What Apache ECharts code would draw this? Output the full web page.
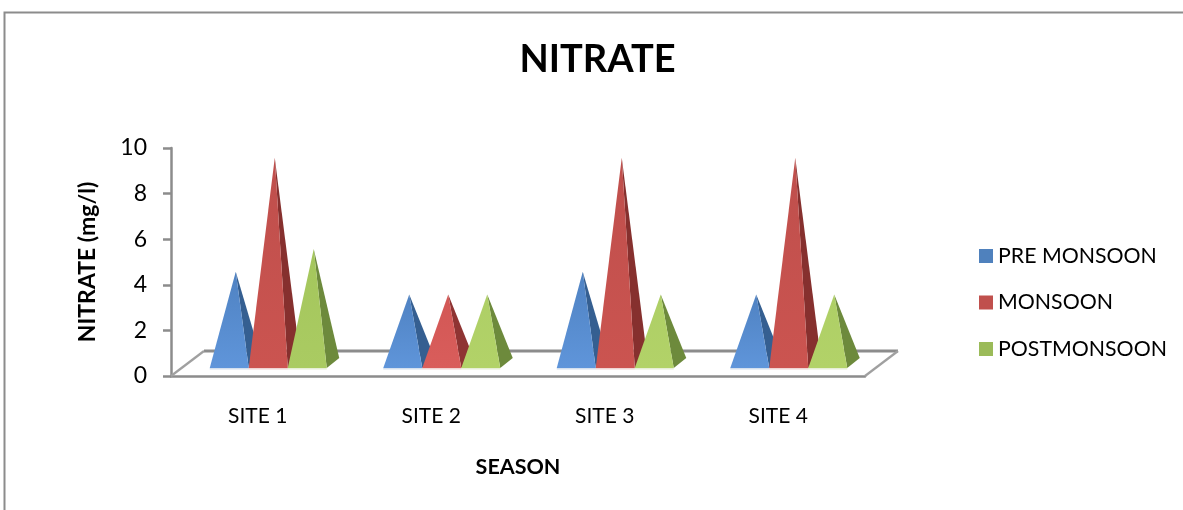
<!DOCTYPE html>
<html><head><meta charset="utf-8">
<style>html,body{margin:0;padding:0;background:#fff}#c{width:1183px;height:510px}</style>
<script src="https://cdn.jsdelivr.net/npm/echarts@6/dist/echarts.min.js"></script>
</head><body><div id="c"></div>
<script>
const categories = ['SITE 1','SITE 2','SITE 3','SITE 4'];
const preMonsoon = [4,3,4,3];
const monsoon = [9,3,9,9];
const postMonsoon = [5,3,3,3];
const seriesNames = ['PRE MONSOON','MONSOON','POSTMONSOON'];

const FONT = 'Lato, "Open Sans", sans-serif';
const GRAY = '#8c8c8c';
const looks = [
  {legend:'#4f81bd', top:'#4f82c2', bottom:'#5f95da', shortTop:'#4f82c2', shortBottom:'#5f95da', side:'#355f91'},
  {legend:'#c0504d', top:'#bf4f4c', bottom:'#cb5450', shortTop:'#d25755', shortBottom:'#d95d5b', side:'#86302e', shortSide:'#8f3433'},
  {legend:'#9bbb59', top:'#a4c65c', bottom:'#aacb62', shortTop:'#aecf66', shortBottom:'#b2d268', side:'#6d8a3c'}
];

const chart = echarts.init(document.getElementById('c'), null, {renderer:'canvas'});

function pyramid(seriesIdx){
  return function(params, api){
    const cat = api.value(0), v = api.value(1);
    const band = api.size([1,0])[0];
    const w = band*0.2248;
    const base = api.coord([cat,0]);
    const tip = api.coord([cat,v]);
    const look = looks[seriesIdx];
    const short = v <= 3;
    const x0 = base[0] - band*0.2767 + seriesIdx*w;
    const x1 = x0 + w;
    const by = base[1] - 8;
    const ax = (x0+x1)/2 + 6.5;
    const ay = tip[1] - 13;
    const front = new echarts.graphic.LinearGradient(0,0,0,1,[
      {offset:0,color:short?look.shortTop:look.top},
      {offset:1,color:short?look.shortBottom:look.bottom}]);
    return {type:'group',children:[
      {type:'polygon',shape:{points:[[x1,by],[x1+12.5,by-10],[ax,ay]]},style:{fill:(short&&look.shortSide)||look.side}},
      {type:'polygon',shape:{points:[[x0,by],[x1,by],[ax,ay]]},style:{fill:front}},
      {type:'rect',shape:{x:x0,y:by,width:w,height:1.5},style:{fill:look.legend,opacity:0.25}}
    ]};
  };
}

function floor(params, api){
  const a = api.coord([0,0]), band = api.size([1,0])[0];
  const left = a[0]-band/2, right = left+band*categories.length, y = a[1];
  const dx = 33, dy = 25;
  const ln = (x1,y1,x2,y2,w,c)=>({type:'line',shape:{x1,y1,x2,y2},style:{stroke:c||GRAY,lineWidth:w}});
  return {type:'group',children:[
    ln(left+dx,y-dy,right+dx,y-dy,3.2),
    ln(left,y,left+dx,y-dy,2.2,'#a0a0a0'),
    ln(right,y,right+dx,y-dy,2.2,'#a0a0a0')
  ]};
}

const pyramidSeries = [preMonsoon,monsoon,postMonsoon].map((vals,i)=>({
  name:seriesNames[i], type:'custom', clip:false,
  renderItem:pyramid(i),
  encode:{x:0,y:1},
  itemStyle:{color:looks[i].legend},
  data:vals.map((v,k)=>[k,v]),
  z:3+i, animation:false
}));

chart.setOption({
  animation:false,
  backgroundColor:'#fff',
  title:{text:'NITRATE',left:514.5,top:36,padding:[5,5],
    textStyle:{fontFamily:FONT,fontWeight:'bold',fontSize:38,color:'#000'}},
  legend:{orient:'vertical',left:979,top:245.5,padding:0,itemWidth:14,itemHeight:14,itemGap:25.5,icon:'rect',
    data:seriesNames,
    textStyle:{fontFamily:FONT,fontSize:21.3,color:'#000',lineHeight:14,height:14}},
  grid:{left:171,top:148,width:694,height:228,containLabel:false},
  xAxis:{type:'category',data:categories,
    name:'SEASON',nameLocation:'middle',nameGap:80,
    nameTextStyle:{fontFamily:FONT,fontWeight:'bold',fontSize:21.5,color:'#000'},
    axisLine:{lineStyle:{color:GRAY,width:2.5}},axisTick:{show:false},
    axisLabel:{fontFamily:FONT,fontSize:21,color:'#000',margin:30},splitLine:{show:false}},
  yAxis:{type:'value',min:0,max:10,interval:2,
    name:'NITRATE (mg/l)',nameLocation:'middle',nameGap:72,nameRotate:90,
    nameTextStyle:{fontFamily:FONT,fontWeight:'bold',fontSize:23,color:'#000'},
    axisLine:{show:true,lineStyle:{color:GRAY,width:2.5}},
    axisTick:{show:true,length:8,lineStyle:{color:GRAY,width:2.5}},
    axisLabel:{fontFamily:FONT,fontSize:23,color:'#000',margin:24},splitLine:{show:false}},
  graphic:[
    {type:'polyline',silent:true,shape:{points:[[4.5,520],[4.5,12.5],[1190,12.5]]},style:{fill:'none',stroke:GRAY,lineWidth:2}}
  ],
  series:[{name:'floor',type:'custom',renderItem:floor,clip:false,encode:{x:0,y:1},data:[[0,0]],z:2,silent:true}].concat(pyramidSeries)
});
</script></body></html>
